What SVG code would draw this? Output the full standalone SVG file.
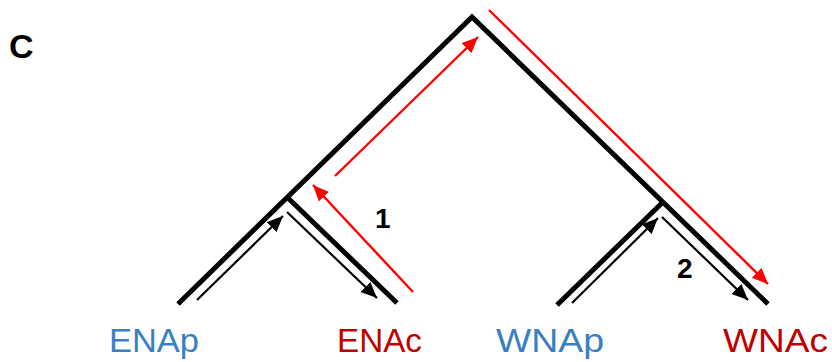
<svg xmlns="http://www.w3.org/2000/svg" width="832" height="362" viewBox="0 0 832 362">
<style>
.tree{fill:none;stroke:#000;stroke-width:5;stroke-linecap:butt;stroke-linejoin:miter}
.ba{fill:none;stroke:#000;stroke-width:2.2}
.ra{fill:none;stroke:#f00;stroke-width:2.4}
.lbl{font-family:"Liberation Sans",Arial,sans-serif;font-size:33px}
.num{font-family:"Liberation Sans",Arial,sans-serif;font-size:28px;font-weight:bold;fill:#000}
.blue{fill:#3a7fc1}
.red{fill:#c00000}
</style>
<defs>
<marker id="mb" markerUnits="userSpaceOnUse" markerWidth="20" markerHeight="16" refX="16" refY="7" orient="auto">
<path d="M0,0 L16,7 L0,14 Z" fill="#000"/>
</marker>
<marker id="mr" markerUnits="userSpaceOnUse" markerWidth="20" markerHeight="16" refX="16" refY="7" orient="auto">
<path d="M0,0 L16,7 L0,14 Z" fill="#f00"/>
</marker>
</defs>
<g id="tree">
<path class="tree" d="M178,304 L472,17 L768,304"/>
<path class="tree" d="M288,198 L397,303"/>
<path class="tree" d="M557,305 L663,202"/>
</g>
<g id="connectors">
<line class="ba" x1="197" y1="300" x2="283" y2="216" marker-end="url(#mb)"/>
<line class="ba" x1="287" y1="212" x2="377" y2="298" marker-end="url(#mb)"/>
<line class="ba" x1="572" y1="303" x2="658" y2="218" marker-end="url(#mb)"/>
<line class="ba" x1="662" y1="217" x2="748" y2="300" marker-end="url(#mb)"/>
<line class="ra" x1="413" y1="292" x2="313" y2="185" marker-end="url(#mr)"/>
<line class="ra" x1="335" y1="176" x2="478" y2="37" marker-end="url(#mr)"/>
<line class="ra" x1="489" y1="10" x2="768" y2="284" marker-end="url(#mr)"/>
</g>
<g id="panel-label"><text x="9" y="58" font-family="Liberation Sans,Arial,sans-serif" font-size="34" font-weight="bold">C</text></g>
<g id="num1"><text class="num" x="375" y="228">1</text></g>
<g id="num2"><text class="num" x="677" y="278">2</text></g>
<g id="ENAp"><text class="lbl blue" x="109" y="352" textLength="90" lengthAdjust="spacingAndGlyphs">ENAp</text></g>
<g id="ENAc"><text class="lbl red" x="337" y="352" textLength="85" lengthAdjust="spacingAndGlyphs">ENAc</text></g>
<g id="WNAp"><text class="lbl blue" x="496" y="352" textLength="108" lengthAdjust="spacingAndGlyphs">WNAp</text></g>
<g id="WNAc"><text class="lbl red" x="723" y="352" textLength="105" lengthAdjust="spacingAndGlyphs">WNAc</text></g>
</svg>
